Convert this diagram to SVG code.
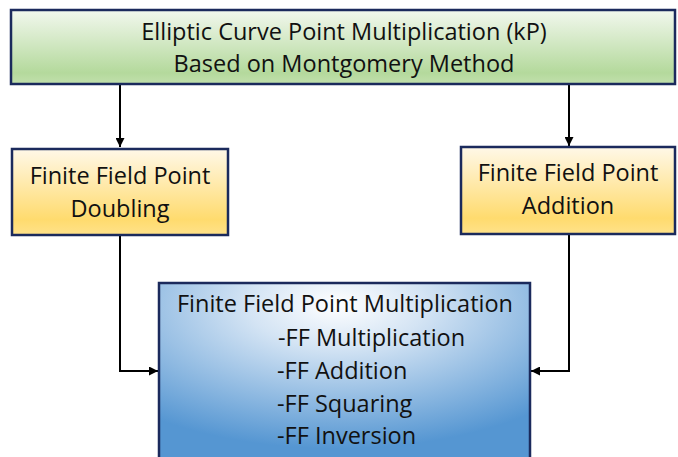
<svg xmlns="http://www.w3.org/2000/svg" width="678" height="457" viewBox="0 0 678 457">
  <defs>
    <linearGradient id="gGreen" x1="0" y1="0" x2="0" y2="1">
      <stop offset="0" stop-color="#f2f8ee"/>
      <stop offset="0.85" stop-color="#b4d99c"/>
      <stop offset="1" stop-color="#c2e0ad"/>
    </linearGradient>
    <linearGradient id="gYellow" x1="0" y1="0" x2="0" y2="1">
      <stop offset="0" stop-color="#fff8e8"/>
      <stop offset="0.82" stop-color="#ffdb6e"/>
      <stop offset="1" stop-color="#ffe28a"/>
    </linearGradient>
    <radialGradient id="gBlue" cx="0.48" cy="0.12" r="0.8" fx="0.48" fy="0.12">
      <stop offset="0" stop-color="#ffffff"/>
      <stop offset="0.3" stop-color="#d4e4f4"/>
      <stop offset="1" stop-color="#5596d2"/>
    </radialGradient>
    <marker id="arrow" viewBox="0 0 10 10" refX="10" refY="5" markerWidth="4.5" markerHeight="4.5" orient="auto" markerUnits="strokeWidth">
      <path d="M0,0 L10,5 L0,10 z" fill="#000"/>
    </marker>
  </defs>
  <style>
    .box { stroke: #1b2a5c; stroke-width: 2.5; }
    .t { font-family: "Open Sans", "Liberation Sans", sans-serif; font-size: 23.5px; fill: #111; }
    .c { text-anchor: middle; }
    .conn { fill: none; stroke: #000; stroke-width: 2; }
  </style>
  <rect width="678" height="457" fill="#ffffff"/>

  <g id="connectors">
    <path class="conn" d="M120,85 V147" marker-end="url(#arrow)"/>
    <path class="conn" d="M569,85 V146" marker-end="url(#arrow)"/>
    <path class="conn" d="M120,235 V371 H158" marker-end="url(#arrow)"/>
    <path class="conn" d="M569,234 V371 H531" marker-end="url(#arrow)"/>
  </g>

  <g id="node-top">
    <rect class="box" x="11" y="10" width="664" height="74" fill="url(#gGreen)"/>
    <text class="t c" x="344" y="40">Elliptic Curve Point Multiplication (kP)</text>
    <text class="t c" x="344" y="72">Based on Montgomery Method</text>
  </g>

  <g id="node-doubling">
    <rect class="box" x="12" y="149" width="216" height="86" fill="url(#gYellow)"/>
    <text class="t c" x="120" y="184">Finite Field Point</text>
    <text class="t c" x="120" y="217">Doubling</text>
  </g>

  <g id="node-addition">
    <rect class="box" x="461" y="147" width="214" height="87" fill="url(#gYellow)"/>
    <text class="t c" x="568" y="181">Finite Field Point</text>
    <text class="t c" x="568" y="214">Addition</text>
  </g>

  <g id="node-multiplication">
    <rect class="box" x="159" y="283" width="371" height="180" fill="url(#gBlue)"/>
    <text class="t c" x="345" y="312">Finite Field Point Multiplication</text>
    <text class="t" x="278" y="346">-FF Multiplication</text>
    <text class="t" x="277" y="379">-FF Addition</text>
    <text class="t" x="277" y="412">-FF Squaring</text>
    <text class="t" x="277" y="444">-FF Inversion</text>
  </g>
</svg>
